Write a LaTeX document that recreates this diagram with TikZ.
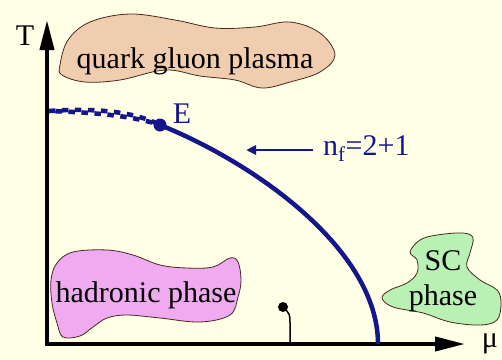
\documentclass[tikz,border=0pt]{standalone}
\usepackage{fontspec}
\setmainfont{Liberation Serif}
\usepackage{xcolor}
\usepackage{tikz}
\usetikzlibrary{arrows.meta, positioning, calc}

\definecolor{paper}{RGB}{255,255,230}
\definecolor{curveblue}{RGB}{22,22,140}
\definecolor{qgpfill}{RGB}{240,205,175}
\definecolor{hadfill}{RGB}{240,170,240}
\definecolor{scfill}{RGB}{185,240,180}
\definecolor{blobline}{RGB}{70,40,30}

\begin{document}
\begin{tikzpicture}[
    x=1pt, y=-1pt,
    every node/.style={font=\fontsize{30}{32}\selectfont, inner sep=0pt},
    blob/.style={draw=blobline, line width=0.8pt},
    axis/.style={-{Triangle[length=30pt, width=14pt]}, line width=4pt},
    crossover/.style={curveblue, line width=4.6pt, dash pattern=on 6.5pt off 6.5pt},
    firstorder/.style={curveblue, line width=4.5pt},
    pointer/.style={-{Triangle[length=10pt, width=9pt]}, curveblue, line width=2.5pt}
]

% Background
\fill[paper] (0,0) rectangle (502,359);
\useasboundingbox (0,0) rectangle (502,359);

% Blobs
\draw[blob, fill=qgpfill] plot[smooth cycle, tension=0.6] coordinates {
    (60,65) (68,40) (90,22) (130,14) (175,20) (215,28) (255,27) (290,22)
    (320,33) (335,55) (320,72) (290,82) (262,88) (235,80) (200,76)
    (165,70) (120,80) (85,82) (62,75)};
\draw[blob, fill=hadfill] plot[smooth cycle, tension=0.6] coordinates {
    (57,263) (73,252) (107,250) (133,255) (160,265) (187,268) (213,267)
    (230,258) (238,262) (241,280) (238,297) (230,315) (200,322) (160,318)
    (127,315) (107,318) (93,327) (80,336) (63,337) (57,323) (52,303) (51,280)};
\draw[blob, fill=scfill] plot[smooth cycle, tension=0.6] coordinates {
    (410,252) (420,240) (437,235) (463,233) (473,238) (470,253) (467,267)
    (480,280) (497,290) (501,303) (497,320) (480,325) (450,322) (423,313)
    (393,307) (382,298) (390,290) (407,283) (417,273) (417,260)};

\node[anchor=base] (qgp) at (195,68) {quark gluon plasma};
\node[anchor=base] (hadron) at (146,302) {hadronic phase};
\node[anchor=base] (sc) at (443,270) {SC};
\node[anchor=base] (scphase) at (443,305) {phase};

% Axes
\coordinate (origin) at (47,344);
\coordinate (Ttip) at (47,20);
\coordinate (mutip) at (465,344);
\draw[axis] ([yshift=-2pt]origin) -- (Ttip);
\draw[axis] ([xshift=-2pt]origin) -- (mutip);
\node[anchor=base] (T) at (25,45) {T};
\node[anchor=base] (mu) at (490,347) {μ};

% Phase boundary
\coordinate (Tc) at (49,111);
\coordinate (Ept) at (160,125);
\coordinate (muc) at (378,344);
\begin{scope}[yshift=2.3pt]
\draw[crossover] (Tc) .. controls (95,110) and (135,114) .. (Ept);
\end{scope}
\begin{scope}[yshift=-2.3pt]
\draw[crossover, dash phase=6.5pt] (Tc) .. controls (95,110) and (135,114) .. (Ept);
\end{scope}
\draw[firstorder] (Ept) .. controls (255,163) and (378,250) .. (muc);
\fill[curveblue] (Ept) circle (6.5);
\node[anchor=base, curveblue] (E) at (182,123) {E};

% Flavour label
\node[anchor=base west, curveblue] (nf) at (323,155) {n\textsubscript{f}=2+1};
\coordinate (nftip) at (246,150);
\draw[pointer] (nf.west |- nftip) ++(-10,0) -- (nftip);

% Nuclear matter point
\coordinate (nucl) at (283,307);
\coordinate (nuclfoot) at (290,344);
\fill (nucl) circle (5);
\draw[line width=1.5pt] (nucl) .. controls (290,314) .. (290,324) -- (nuclfoot);

\end{tikzpicture}
\end{document}
